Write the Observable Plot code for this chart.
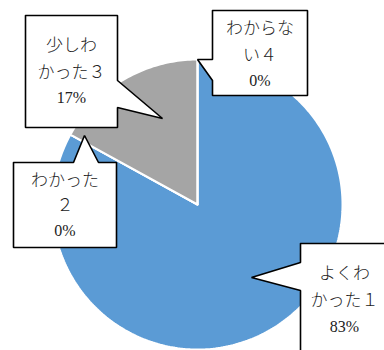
<!DOCTYPE html>
<html><head><meta charset="utf-8">
<script src="https://cdn.jsdelivr.net/npm/d3@7"></script>
<script src="https://cdn.jsdelivr.net/npm/@observablehq/plot@0.6"></script>
<style>html,body{margin:0;padding:0;background:#fff;}</style>
</head><body><div id="chart"></div>
<script>
const categories = ["よくわかった１", "わかった２", "少しわかった３", "わからない４"];
const values = [83, 0, 17, 0];
const labelLines = [["よくわ", "かった１"], ["わかった", "２"], ["少しわ", "かった３"], ["わからな", "い４"]];
const colors = ["#5b9bd5", "#ed7d31", "#a5a5a5", "#ffc000"];

// layout (pixel units; scales are identity)
const W = 384, H = 350;
const cx = 197, cy = 204, R = 145;
const callouts = [
  {box: [300, 243, 388, 362], side: "left", base: [262, 290], tip: [251, 277], tx: 344, ty: [273, 300, 326]},
  {box: [13, 162, 116, 247], side: "top", base: [73, 98], tip: [84, 135], tx: 64.5, ty: [180, 205, 230]},
  {box: [25, 15, 117, 127], side: "right", base: [80, 107], tip: [162, 118], tx: 71, ty: [45, 72, 97]},
  {box: [212, 10, 307, 95], side: "left", base: [59, 80], tip: [197, 59], tx: 259.5, ty: [28, 55, 80]}
];

const rows = categories.map((c, i) => ({category: c, value: values[i], i}));
const total = d3.sum(values);
const arcs = d3.pie().sort(null).value(d => d.value)(rows);

const slicePts = [];
arcs.forEach(a => {
  const id = a.data.category;
  slicePts.push({id, x: cx, y: cy});
  const n = Math.max(1, Math.ceil((a.endAngle - a.startAngle) / (Math.PI / 180)));
  for (let k = 0; k <= n; k++) {
    const t = a.startAngle + (a.endAngle - a.startAngle) * k / n;
    slicePts.push({id, x: cx + R * Math.sin(t), y: cy - R * Math.cos(t)});
  }
  slicePts.push({id, x: cx, y: cy});
});

function calloutPoly(c, id) {
  const [x0, y0, x1, y1] = c.box;
  let p;
  if (c.side === "right") {
    p = [[x0,y0],[x1,y0],[x1,c.base[0]],c.tip,[x1,c.base[1]],[x1,y1],[x0,y1],[x0,y0]];
  } else if (c.side === "top") {
    p = [[x0,y0],[c.base[0],y0],c.tip,[c.base[1],y0],[x1,y0],[x1,y1],[x0,y1],[x0,y0]];
  } else {
    p = [[x0,y0],[x1,y0],[x1,y1],[x0,y1],[x0,c.base[1]],c.tip,[x0,c.base[0]],[x0,y0]];
  }
  return p.map(([x, y]) => ({id, x, y}));
}
const calloutPts = callouts.flatMap((c, i) => calloutPoly(c, categories[i]));

const nameText = [], pctText = [];
rows.forEach((r, i) => {
  const c = callouts[i];
  nameText.push({x: c.tx, y: c.ty[0], t: labelLines[i][0]});
  nameText.push({x: c.tx, y: c.ty[1], t: labelLines[i][1]});
  pctText.push({x: c.tx, y: c.ty[2], t: Math.round(r.value / total * 100) + "%"});
});

const chart = Plot.plot({
  width: W, height: H, margin: 0,
  style: {fontFamily: "'Liberation Serif', serif"},
  x: {domain: [0, W], range: [0, W], axis: null},
  y: {domain: [0, H], range: [0, H], axis: null},
  color: {domain: categories, range: colors},
  marks: [
    Plot.line(slicePts, {x: "x", y: "y", z: "id", fill: "id", stroke: "white", strokeWidth: 2, curve: "linear", strokeLinejoin: "miter"}),
    Plot.line(calloutPts, {x: "x", y: "y", z: "id", fill: "white", stroke: "black", strokeWidth: 1.6, curve: "linear", strokeLinejoin: "miter"}),
    Plot.text(nameText, {x: "x", y: "y", text: "t", fontSize: 17, fill: "#222", fontFamily: "Noto Sans CJK JP", fontWeight: 300, textAnchor: "middle", lineAnchor: "middle"}),
    Plot.text(pctText, {x: "x", y: "y", text: "t", fontSize: 16, fill: "#222", fontFamily: "Liberation Serif", fontWeight: "normal", textAnchor: "middle", lineAnchor: "middle"})
  ]
});
document.getElementById("chart").appendChild(chart);
</script>
</body></html>
